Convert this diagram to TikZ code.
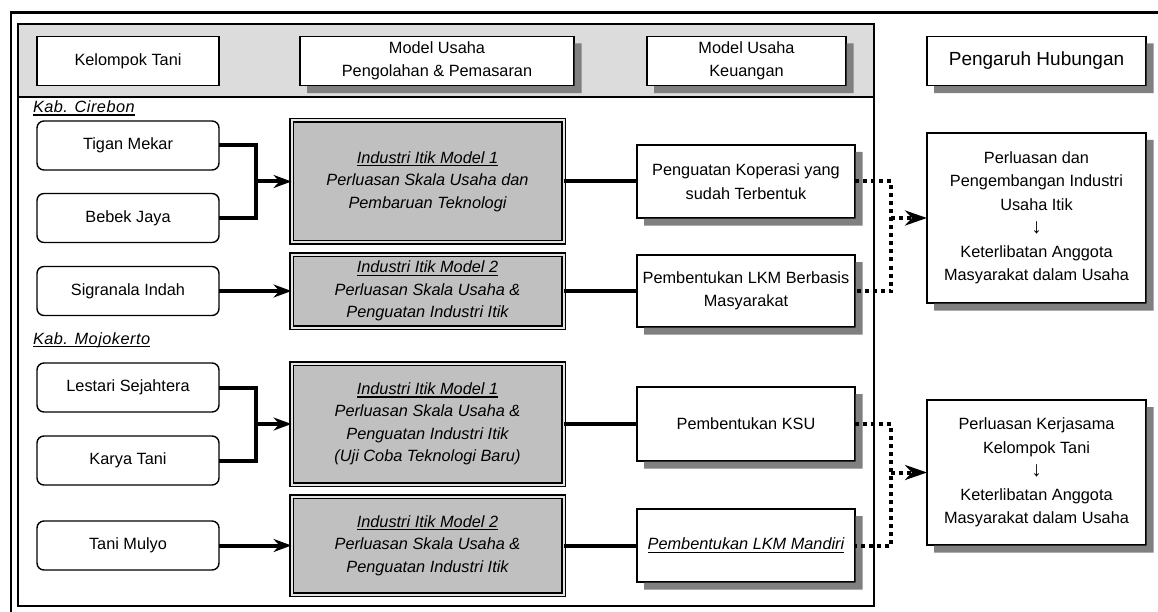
\documentclass[tikz,border=0pt]{standalone}
\usepackage{fontspec}
\setmainfont{Liberation Sans}
\usetikzlibrary{arrows.meta,calc}

% underline with a heavier rule
\newsavebox{\ulbox}
\newcommand{\ulx}[1]{\leavevmode\sbox{\ulbox}{#1}\rlap{\rule[-3.2pt]{\wd\ulbox}{1.3pt}}\usebox{\ulbox}}
% thin down arrow between text lines
\newcommand{\darr}{{\fontsize{21}{23}\selectfont ↓}}

\definecolor{bandgray}{HTML}{DCDCDC}
\definecolor{boxgray}{HTML}{C0C0C0}
\definecolor{gaplight}{HTML}{E4E4E4}
\definecolor{shadegray}{RGB}{128,128,128}

\tikzset{
  every node/.style={font=\fontsize{16.3}{23.5}\selectfont, inner sep=0pt, outer sep=0pt, align=center},
  boxshade/.style={fill=shadegray, draw=none},
  hdr/.style={draw, fill=white, line width=1.2pt, minimum height=49pt},
  farm/.style={draw, fill=white, rounded corners=7pt, line width=1.4pt, minimum width=182pt, minimum height=49pt},
  model/.style={draw, line width=1.3pt, double=gaplight, double distance=2pt, fill=boxgray,
                font=\fontsize{16.3}{22.5}\selectfont\itshape, minimum width=272pt},
  fin/.style={draw, fill=white, line width=1.2pt, minimum width=218pt},
  res/.style={draw, fill=white, line width=1.2pt, minimum width=219pt},
  kab/.style={anchor=west, font=\fontsize{16.3}{18}\selectfont\itshape\addfontfeatures{LetterSpace=3}},
  link/.style={line width=4pt},
  arr/.style={link, -{Stealth[length=18pt, width=13pt, inset=6pt]}},
  dots/.style={line width=4pt, dash pattern=on 4pt off 4pt},
  dotarr/.style={dots, -{Stealth[length=22pt, width=15pt, inset=7pt]}}
}

\begin{document}
\begin{tikzpicture}[x=1pt, y=-1pt]
\useasboundingbox (0,0) rectangle (1158,612);

% outer frame (top and left edges)
\draw[line width=2.5pt] (11,612) -- (11,12.5) -- (1158,12.5);

% inner panel with grey header band
\fill[bandgray] (18,24) rectangle (874,97);
\draw[line width=2pt] (18,24) rectangle (874,606);
\draw[line width=2pt] (18,97) -- (874,97);

% column headers
\node[hdr, minimum width=182pt] (hk) at (128,61) {Kelompok Tani};
\node[hdr, minimum width=274pt] (hp) at (437,61) {Model Usaha\\Pengolahan \& Pemasaran};
\node[hdr, minimum width=199pt] (hf) at (746.5,61) {Model Usaha\\Keuangan};
\node[hdr, minimum width=219pt, font=\fontsize{19}{23}\selectfont] (hr) at (1036.5,61) {Pengaruh Hubungan};

% region labels
\node[kab] (kc) at (33,108) {\ulx{Kab. Cirebon}};
\node[kab] (km) at (33,340) {\ulx{Kab. Mojokerto}};

% farmer groups
\node[farm] (tm)  at (128,145.5) {Tigan Mekar};
\node[farm] (bj)  at (128,218)   {Bebek Jaya};
\node[farm] (si)  at (128,291)   {Sigranala Indah};
\node[farm] (ls)  at (128,387.5) {Lestari Sejahtera};
\node[farm] (kt)  at (128,460.5) {Karya Tani};
\node[farm] (tmu) at (128,545.5) {Tani Mulyo};

% processing & marketing models
\node[model, minimum height=122pt] (m1c) at (427.5,181.5)
  {\ulx{Industri Itik Model 1}\\Perluasan Skala Usaha dan\\Pembaruan Teknologi};
\node[model, minimum height=73pt] (m2c) at (427.5,291)
  {\ulx{Industri Itik Model 2}\\Perluasan Skala Usaha \&\\Penguatan Industri Itik};
\node[model, minimum height=121pt] (m1m) at (427.5,424)
  {\ulx{Industri Itik Model 1}\\Perluasan Skala Usaha \&\\Penguatan Industri Itik\\(Uji Coba Teknologi Baru)};
\node[model, minimum height=98pt] (m2m) at (427.5,545.5)
  {\ulx{Industri Itik Model 2}\\Perluasan Skala Usaha \&\\Penguatan Industri Itik};

% finance models
\node[fin, minimum height=73pt] (pk)  at (746,181.5) {Penguatan Koperasi yang\\sudah Terbentuk};
\node[fin, minimum height=72pt] (lb)  at (746,291)   {Pembentukan LKM Berbasis\\Masyarakat};
\node[fin, minimum height=74pt] (ksu) at (746,424)   {Pembentukan KSU};
\node[fin, minimum height=73pt] (lm)  at (746,545.5) {\ulx{\itshape Pembentukan LKM Mandiri}};

% outcomes
\node[res, minimum height=170pt] (r1) at (1036.5,218)
  {Perluasan dan\\Pengembangan Industri\\Usaha Itik\\\darr\\Keterlibatan Anggota\\Masyarakat dalam Usaha};
\node[res, minimum height=145pt] (r2) at (1036.5,472.5)
  {Perluasan Kerjasama\\Kelompok Tani\\\darr\\Keterlibatan Anggota\\Masyarakat dalam Usaha};

% L-shaped grey shadows along the right and lower edges
\foreach \nm in {hp,hf,hr,pk,lb,ksu,lm,r1,r2} {
  \fill[boxshade]
    ($(\nm.north east)+(0.6,7)$) -- ($(\nm.north east)+(7.6,7)$)
    -- ($(\nm.south east)+(7.6,7.6)$) -- ($(\nm.south west)+(7,7.6)$)
    -- ($(\nm.south west)+(7,0.6)$) -- ($(\nm.south east)+(0.6,0.6)$) -- cycle;
}

% junction points
\coordinate (j1) at (256,181.5);
\coordinate (j2) at (256,424);
\coordinate (d1) at (891,218);
\coordinate (d2) at (891,472.5);

% groups into models
\draw[link] (tm.east) -| (j1) |- (bj.east);
\draw[arr] (j1) -- (m1c.west);
\draw[arr] (si.east) -- (m2c.west);
\draw[link] (ls.east) -| (j2) |- (kt.east);
\draw[arr] (j2) -- (m1m.west);
\draw[arr] (tmu.east) -- (m2m.west);

% models into finance
\draw[link] (m1c.east) -- (pk.west);
\draw[link] (m2c.east) -- (lb.west);
\draw[link] (m1m.east) -- (ksu.west);
\draw[link] (m2m.east) -- (lm.west);

% finance into outcomes
\draw[dots] (pk.east) -| (d1) |- (lb.east);
\draw[dotarr] (d1) -- (r1.west);
\draw[dots] (ksu.east) -| (d2) |- (lm.east);
\draw[dotarr] (d2) -- (r2.west);
\end{tikzpicture}
\end{document}
